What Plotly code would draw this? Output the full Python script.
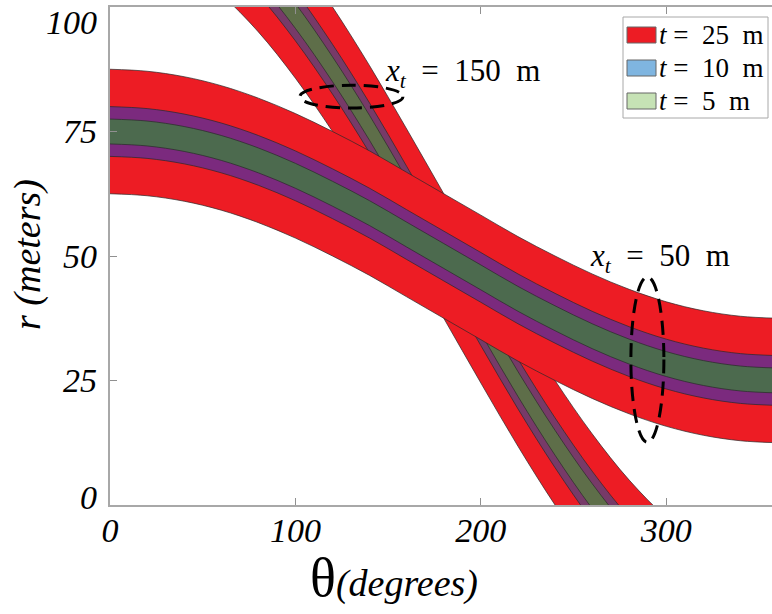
import plotly.graph_objects as go

# Centre lines of the two sinusoidal bands (r in metres vs theta in degrees)
theta_50 = [0, 20, 40, 60, 80, 100, 120, 140, 160, 180, 200, 220, 240, 260, 280, 300, 320, 340, 360]
r_50 = [75.0, 74.6, 73.5, 71.7, 69.2, 66.1, 62.5, 58.6, 54.3, 50.0, 45.7, 41.4, 37.5, 33.9, 30.8, 28.3, 26.5, 25.4, 25.0]

theta_150 = [40, 60, 80, 100, 120, 140, 160, 180, 200, 220, 240, 260, 280, 300, 320]
r_150 = [120.5, 115.0, 107.5, 98.2, 87.5, 75.7, 63.0, 50.0, 37.0, 24.3, 12.5, 1.8, -7.5, -15.0, -20.5]

# Band thicknesses (m) and their legend labels
thickness = [25, 10, 5]
legend_labels = ["<i>t</i>&nbsp;=&nbsp; 25&nbsp; m", "<i>t</i>&nbsp;=&nbsp; 10&nbsp; m", "<i>t</i>&nbsp;=&nbsp; 5&nbsp; m"]

x_ticks = [0, 100, 200, 300]
y_ticks = [0, 25, 50, 75, 100]

RED = "#ED1C24"
colors_150 = [RED, "#773A68", "#5E6E49"]
colors_50 = [RED, "#7B2A7E", "#4C6A4E"]
legend_colors = [RED, "#7FB5E0", "#C6E2B5"]
EDGE = "#2a2a2a"
SERIF = "'Liberation Serif', 'Times New Roman', Times, serif"

fig = go.Figure()


def add_band(theta, centre, colors):
    for t, col in zip(thickness, colors):
        lower = [c - t / 2 for c in centre]
        upper = [c + t / 2 for c in centre]
        fig.add_trace(go.Scatter(
            x=theta, y=lower, mode="lines",
            line=dict(color=EDGE, width=0.7, shape="spline"),
            showlegend=False, hoverinfo="skip"))
        fig.add_trace(go.Scatter(
            x=theta, y=upper, mode="lines", fill="tonexty", fillcolor=col,
            line=dict(color=EDGE, width=0.7, shape="spline"),
            showlegend=False, hoverinfo="skip"))


add_band(theta_150, r_150, colors_150)
add_band(theta_50, r_50, colors_50)

# plot-area pixel helpers (paper coordinates)
L, R, T, B = 110, 772, 7, 505
def px(x):
    return (x - L) / (R - L)
def py(y):
    return (B - y) / (B - T)

shapes = []
annotations = []

# dashed ellipses marking each target
shapes.append(dict(type="circle", xref="x", yref="y", x0=102.4, x1=158.0, y0=79.7, y1=84.3,
                   line=dict(color="black", width=3, dash="14px,8px"), layer="above"))
shapes.append(dict(type="circle", xref="x", yref="y", x0=280.9, x1=298.7, y0=12.6, y1=45.8,
                   line=dict(color="black", width=3, dash="14px,8px"), layer="above"))

annotations.append(dict(x=147.2, y=86.7, xref="x", yref="y", xanchor="left", yanchor="middle",
                        text="<i>x</i><sub><i>t</i></sub>&nbsp; =&nbsp; 150&nbsp; m", showarrow=False,
                        font=dict(family=SERIF, size=31, color="black")))
annotations.append(dict(x=257.7, y=49.6, xref="x", yref="y", xanchor="left", yanchor="middle",
                        text="<i>x</i><sub><i>t</i></sub>&nbsp; =&nbsp; 50&nbsp; m", showarrow=False,
                        font=dict(family=SERIF, size=31, color="black")))

# legend box
shapes.append(dict(type="rect", xref="paper", yref="paper", x0=px(623), x1=px(768), y0=py(118), y1=py(17),
                   fillcolor="white", line=dict(color="#a8a8a8", width=1), layer="above"))
row_y = [35, 68, 101]
for yc, col, lab in zip(row_y, legend_colors, legend_labels):
    shapes.append(dict(type="rect", xref="paper", yref="paper", x0=px(627), x1=px(656),
                       y0=py(yc + 8), y1=py(yc - 8), fillcolor=col,
                       line=dict(color="#666666", width=1), layer="above"))
    annotations.append(dict(x=px(657), y=py(yc), xref="paper", yref="paper", xanchor="left",
                            yanchor="middle", text=lab, showarrow=False,
                            font=dict(family=SERIF, size=27, color="black")))

tick_font = dict(family=SERIF, size=34, color="black", style="italic")

# r tick labels, the end ones pulled inward so they stay inside the figure
end_nudge = {0: 8, 100: -15}
for v in y_ticks:
    annotations.append(dict(x=px(99), y=v, xref="paper", yref="y", xanchor="right", yanchor="middle",
                            text=str(v), showarrow=False, yshift=end_nudge.get(v, 0), font=tick_font))

# axis titles
annotations.append(dict(x=px(27), y=py(255), xref="paper", yref="paper", text="<i>r (meters)</i>",
                        textangle=-90, showarrow=False, xanchor="center", yanchor="middle",
                        font=dict(family=SERIF, size=38, color="black")))
annotations.append(dict(x=px(394), y=py(578), xref="paper", yref="paper",
                        text="<span style='font-size:54px'>θ</span><i>(degrees)</i>",
                        showarrow=False, xanchor="center", yanchor="middle",
                        font=dict(family=SERIF, size=38, color="black")))

fig.update_layout(
    width=772, height=614,
    margin=dict(l=L, r=772 - R, t=T, b=614 - B),
    plot_bgcolor="white", paper_bgcolor="white",
    shapes=shapes, annotations=annotations,
    showlegend=False,
    xaxis=dict(range=[0, 357], tickvals=x_ticks, ticks="inside", ticklen=7, tickcolor="#909090",
               showline=True, linecolor="#a8a8a8", linewidth=1.5, mirror="ticks", automargin=False,
               showgrid=False, zeroline=False, tickfont=tick_font, ticklabelstandoff=-6),
    yaxis=dict(range=[0, 100], tickvals=y_ticks, ticks="inside", ticklen=7, tickcolor="#909090",
               showline=True, linecolor="#a8a8a8", linewidth=1.5, automargin=False,
               showticklabels=False, showgrid=False, zeroline=False),
)

fig.write_html("out.html")
